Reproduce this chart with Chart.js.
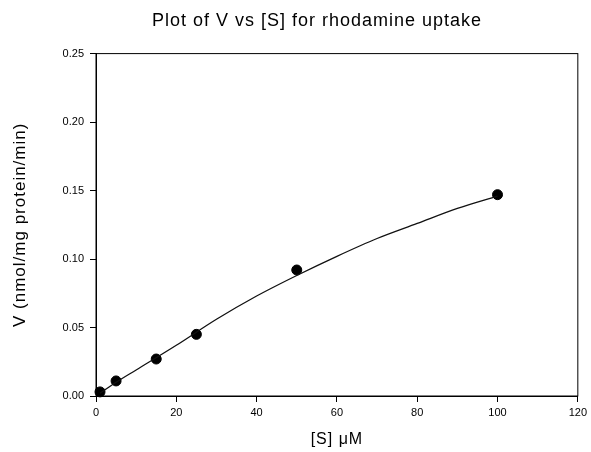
<!DOCTYPE html>
<html>
<head>
<meta charset="utf-8">
<script src="https://cdn.jsdelivr.net/npm/chart.js@4/dist/chart.umd.min.js"></script>
<style>
    body { margin: 0; background: #fff; }
    #wrap { width: 591px; height: 452px; }
</style>
</head>
<body>
<div id="wrap"><canvas id="vsChart"></canvas></div>
<script>
// measured points
const pointS = [1, 5, 15, 25, 50, 100];
const pointV = [0.003, 0.011, 0.027, 0.045, 0.092, 0.147];

// fitted curve
const fitS = [1, 5, 10, 20, 30, 40, 50, 60, 70, 80, 90, 100];
const fitV = [0.002, 0.010, 0.019, 0.037, 0.056, 0.073, 0.088, 0.102, 0.115, 0.126, 0.137, 0.146];

const xTicks = [0, 20, 40, 60, 80, 100, 120];
const yTicks = [0, 0.05, 0.10, 0.15, 0.20, 0.25];

Chart.defaults.font.family = '"Liberation Sans", Arial, sans-serif';
Chart.defaults.color = '#000';

// titles are a bit spaced out in the scan, tick labels are not
const letterSpacing = {
    id: 'letter_spacing',
    beforeDraw: (chart) => {
        chart.ctx.letterSpacing = '1px';
    },
    beforeDatasetsDraw: (chart) => {
        chart.ctx.letterSpacing = '0px';
    }
};

// the title sits a little right of the canvas centre
const titleShift = {
    id: 'title_shift',
    afterLayout: (chart) => {
        if (chart.titleBlock) {
            chart.titleBlock.left = 55;
        }
    }
};

// close the frame on top and right
const frameBox = {
    id: 'frame_box',
    afterDraw: (chart) => {
        const {ctx, chartArea: {left, top, right, bottom}} = chart;
        ctx.save();
        ctx.strokeStyle = '#000';
        ctx.lineWidth = 1;
        ctx.strokeRect(left, top, right - left, bottom - top);
        ctx.restore();
    }
};

const points = pointS.map((s, i) => ({x: s, y: pointV[i]}));
const fit = fitS.map((s, i) => ({x: s, y: fitV[i]}));

let ctx = document.getElementById('vsChart').getContext('2d');

new Chart(ctx, {
    type: 'scatter',
    data: {
        datasets: [
            {
                label: 'fit',
                data: fit,
                showLine: true,
                borderColor: '#111',
                borderWidth: 1.3,
                pointRadius: 0,
                cubicInterpolationMode: 'monotone',
                fill: false
            },
            {
                label: 'V',
                data: points,
                showLine: false,
                pointRadius: 5,
                backgroundColor: '#000',
                borderColor: '#000',
                clip: false
            }
        ]
    },
    options: {
        responsive: true,
        maintainAspectRatio: false,
        animation: false,
        layout: {
            padding: {left: 0, right: 12, top: 0, bottom: 0}
        },
        plugins: {
            legend: {display: false},
            tooltip: {enabled: false},
            title: {
                display: true,
                text: 'Plot of V vs [S] for rhodamine uptake',
                font: {size: 18, weight: 'normal'},
                color: '#000',
                padding: {top: 10, bottom: 22}
            }
        },
        scales: {
            x: {
                type: 'linear',
                min: 0,
                max: 120,
                afterFit: (scale) => { scale.height = 56; },
                afterBuildTicks: (scale) => { scale.ticks = xTicks.map(v => ({value: v})); },
                grid: {display: true, drawOnChartArea: false, tickLength: 6, color: '#000'},
                border: {display: true, color: '#000', width: 1},
                ticks: {z: 1, padding: 4, font: {size: 11}, color: '#000', maxRotation: 0},
                title: {
                    display: true,
                    text: '[S] \u03bcM',
                    font: {size: 16},
                    color: '#000',
                    padding: {top: 0, bottom: 3}
                }
            },
            y: {
                type: 'linear',
                min: 0,
                max: 0.25,
                afterFit: (scale) => { scale.width = 96; },
                afterBuildTicks: (scale) => { scale.ticks = yTicks.map(v => ({value: v})); },
                grid: {display: true, drawOnChartArea: false, tickLength: 6, color: '#000'},
                border: {display: true, color: '#000', width: 1},
                ticks: {
                    z: 1,
                    padding: 6,
                    font: {size: 11},
                    color: '#000',
                    callback: (v) => v.toFixed(2)
                },
                title: {
                    display: true,
                    text: 'V (nmol/mg protein/min)',
                    font: {size: 17},
                    color: '#000',
                    padding: {top: 10, bottom: 0}
                }
            }
        }
    },
    plugins: [letterSpacing, titleShift, frameBox]
});
</script>
</body>
</html>
